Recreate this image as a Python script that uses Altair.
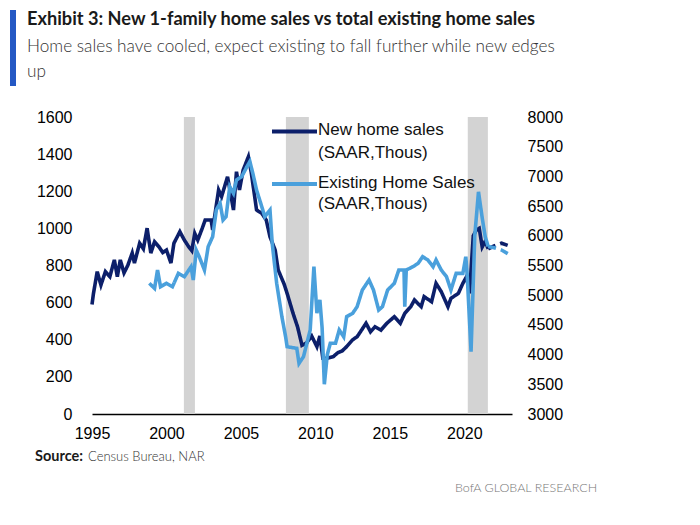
import altair as alt
import pandas as pd

# ---------------- data ----------------
new_years = [1995.0, 1995.1, 1995.35, 1995.6, 1995.9, 1996.2, 1996.5, 1996.7, 1996.9, 1997.15,
             1997.4, 1997.7, 1997.85, 1998.2, 1998.45, 1998.7, 1998.95, 1999.2, 1999.5, 1999.75,
             2000.0, 2000.3, 2000.5, 2000.9, 2001.2, 2001.5, 2001.7, 2001.9, 2002.1, 2002.4,
             2002.6, 2003.0, 2003.1, 2003.5, 2003.7, 2004.1, 2004.5, 2004.7, 2004.9, 2005.15,
             2005.5, 2005.7, 2006.05, 2006.4, 2006.7, 2006.95, 2007.3, 2007.5, 2007.9, 2008.1,
             2008.5, 2008.8, 2009.1, 2009.4, 2009.75, 2010.1, 2010.3, 2010.5, 2010.8, 2011.2,
             2011.5, 2011.8, 2012.1, 2012.5, 2012.8, 2013.1, 2013.4, 2013.7, 2014.0, 2014.4,
             2014.8, 2015.3, 2015.7, 2016.0, 2016.4, 2016.65, 2017.1, 2017.3, 2017.8, 2018.1,
             2018.45, 2018.9, 2019.1, 2019.6, 2019.9, 2020.15, 2020.35, 2020.6, 2020.8, 2021.0,
             2021.2, 2021.4, 2021.6]
new_sales = [590, 650, 767, 695, 767, 740, 830, 740, 830, 760,
             800, 867, 813, 920, 890, 1001, 867, 928, 900, 870,
             883, 813, 920, 982, 937, 900, 880, 973, 937, 1000,
             1045, 1045, 991, 1207, 1171, 1278, 1099, 1305, 1207, 1314,
             1386, 1297, 1099, 1081, 1045, 955, 883, 776, 700, 650,
             542, 470, 370, 382, 420, 363, 420, 300, 300, 309,
             330, 340, 363, 400, 416, 452, 489, 443, 470, 452,
             489, 524, 489, 542, 578, 614, 578, 632, 605, 704,
             659, 578, 623, 650, 704, 740, 650, 960, 990, 1000,
             900, 930, 890]
new_fc_years = [2021.6, 2022.0, 2022.5, 2023.2]
new_fc_sales = [890, 905, 920, 900]

exist_years = [1998.85, 1999.2, 1999.4, 1999.6, 2000.0, 2000.4, 2000.8, 2001.2, 2001.65, 2001.8,
               2002.0, 2002.2, 2002.55, 2002.8, 2003.1, 2003.35, 2003.6, 2003.8, 2004.0, 2004.25,
               2004.5, 2004.7, 2005.05, 2005.4, 2005.6, 2005.8, 2006.05, 2006.4, 2006.6, 2006.95,
               2007.1, 2007.4, 2007.75, 2008.0, 2008.1, 2008.75, 2008.9, 2009.2, 2009.65, 2009.9,
               2010.1, 2010.3, 2010.45, 2010.6, 2010.8, 2011.0, 2011.35, 2011.6, 2011.9, 2012.1,
               2012.5, 2012.8, 2013.15, 2013.6, 2013.9, 2014.25, 2014.5, 2014.85, 2015.3, 2015.6,
               2015.95, 2016.0, 2016.1, 2016.55, 2016.9, 2017.2, 2017.55, 2017.9, 2018.1, 2018.45,
               2018.8, 2019.1, 2019.45, 2019.9, 2020.1, 2020.2, 2020.45, 2020.7, 2020.95, 2021.2,
               2021.4, 2021.6]
exist_sales = [5200, 5115, 5424, 5143, 5200, 5143, 5368, 5311, 5480, 5256,
               5760, 5648, 5424, 5817, 5985, 6440, 6547, 6266, 6322, 6827,
               6715, 6940, 6995, 7163, 7250, 7050, 6770, 6490, 6322, 6434,
               5873, 5200, 4638, 4300, 4133, 4105, 3853, 3965, 4414, 5480,
               4700, 4920, 4450, 3500, 4000, 4190, 4190, 4414, 4300, 4638,
               4695, 4806, 5087, 5256, 5087, 4750, 4806, 5087, 5200, 5424,
               5424, 4806, 5424, 5480, 5537, 5648, 5593, 5480, 5593, 5424,
               5312, 5087, 5368, 5368, 5648, 5300, 4050, 6000, 6740, 6300,
               5985, 5820]
exist_fc_years = [2021.6, 2022.0, 2022.5, 2023.05]
exist_fc_sales = [5820, 5800, 5760, 5680]

recession_start = [2001.17, 2008.02, 2020.23]
recession_end = [2001.91, 2009.56, 2021.58]

x_ticks = [1995, 2000, 2005, 2010, 2015, 2020]
left_ticks = [0, 200, 400, 600, 800, 1000, 1200, 1400, 1600]
right_ticks = [3000, 3500, 4000, 4500, 5000, 5500, 6000, 6500, 7000, 7500, 8000]

title_text = "Exhibit 3: New 1-family home sales vs total existing home sales"
subtitle_1 = "Home sales have cooled, expect existing to fall further while new edges"
subtitle_2 = "up"
legend_new = ["New home sales", "(SAAR,Thous)"]
legend_exist = ["Existing Home Sales", "(SAAR,Thous)"]

# ---------------- frames ----------------
new_df = pd.concat([
    pd.DataFrame({"year": new_years, "v": new_sales, "seg": "actual"}),
    pd.DataFrame({"year": new_fc_years, "v": new_fc_sales, "seg": "forecast"}),
])
exist_df = pd.concat([
    pd.DataFrame({"year": exist_years, "v": exist_sales, "seg": "actual"}),
    pd.DataFrame({"year": exist_fc_years, "v": exist_fc_sales, "seg": "forecast"}),
])
rec_df = pd.DataFrame({"start": recession_start, "end": recession_end})

W, H = 420, 297
DARK = "#0c1f6a"
LIGHT = "#4aa0dc"
FONT = "Liberation Sans"
HEAD = "Lato"

x_axis = alt.Axis(values=x_ticks, format="d", title=None, grid=False, ticks=False,
                  domainColor="black", domainWidth=1.6, labelFontSize=16,
                  labelFont=FONT, labelColor="black", labelPadding=11, labelFlush=False)
x_scale = alt.Scale(domain=[1995, 2023.2], nice=False, zero=False)
x_enc = alt.X("year:Q", scale=x_scale, axis=x_axis)

dash = alt.StrokeDash("seg:N", scale=alt.Scale(domain=["actual", "forecast"],
                                                range=[[1, 0], [8, 5]]), legend=None)

bands = alt.Chart(rec_df).mark_rect(color="#d3d3d3").encode(
    x=alt.X("start:Q", scale=x_scale, axis=x_axis),
    x2=alt.X2("end:Q"), y=alt.value(0), y2=alt.value(H))

new_line = alt.Chart(new_df).mark_line(color=DARK, strokeWidth=3.6).encode(
    x=x_enc,
    y=alt.Y("v:Q", scale=alt.Scale(domain=[0, 1600], nice=False),
            axis=alt.Axis(orient="left", values=left_ticks, format="d", title=None, grid=False,
                          domain=False, ticks=False, labelFontSize=16, labelFont=FONT,
                          labelColor="black", labelPadding=20)),
    strokeDash=dash, detail="seg:N")

exist_line = alt.Chart(exist_df).mark_line(color=LIGHT, strokeWidth=3.6).encode(
    x=x_enc,
    y=alt.Y("v:Q", scale=alt.Scale(domain=[3000, 8000], nice=False, zero=False),
            axis=alt.Axis(orient="right", values=right_ticks, format="d", title=None, grid=False,
                          domain=False, ticks=False, labelFontSize=16, labelFont=FONT,
                          labelColor="black", labelPadding=15)),
    strokeDash=dash, detail="seg:N")

one = alt.Data(values=[{}])


def txt(text, x, y, size=17, weight="normal", font=FONT, color="#111111", align="left"):
    return alt.Chart(one).mark_text(text=text, fontSize=size, fontWeight=weight, font=font,
                                    color=color, align=align, baseline="middle").encode(
        x=alt.value(x), y=alt.value(y))


def seg(x1, x2, y, color, width):
    return alt.Chart(one).mark_rule(color=color, strokeWidth=width).encode(
        x=alt.value(x1), x2=alt.value(x2), y=alt.value(y))


bar = alt.Chart(one).mark_rect(color="#2458c4").encode(
    x=alt.value(-82), x2=alt.value(-76), y=alt.value(-107), y2=alt.value(-31))

annot = [
    bar,
    txt(title_text, -65, -97, size=18.2, weight="bold", font=HEAD, color="#1a1a1a"),
    txt(subtitle_1, -65, -70, size=17.2, weight=300, font=HEAD, color="#333333"),
    txt(subtitle_2, -65, -45, size=17.2, weight=300, font=HEAD, color="#333333"),
    seg(180, 225, 14.5, DARK, 4),
    txt(legend_new[0], 226, 13),
    txt(legend_new[1], 226, 35.5),
    seg(180, 225, 67, LIGHT, 4),
    txt(legend_exist[0], 226, 65.5),
    txt(legend_exist[1], 226, 86.5),
    txt("Source:", -57, 340, size=14.5, weight="bold", font=HEAD, color="#1a1a1a"),
    txt("Census Bureau, NAR", -4, 340, size=13, weight=300, font=HEAD, color="#333333"),
    txt("BofA GLOBAL RESEARCH", 363, 371, size=12.5, weight=300, font=HEAD, color="#777777"),
]

chart = alt.layer(bands, new_line, exist_line, *annot).resolve_scale(
    y="independent"
).properties(
    width=W, height=H,
    autosize=alt.AutoSizeParams(type="none"),
    padding={"left": 84, "top": 109, "right": 180, "bottom": 100},
).configure_view(stroke=None)

chart.save("out.html", embed_options={"renderer": "svg", "actions": False})
